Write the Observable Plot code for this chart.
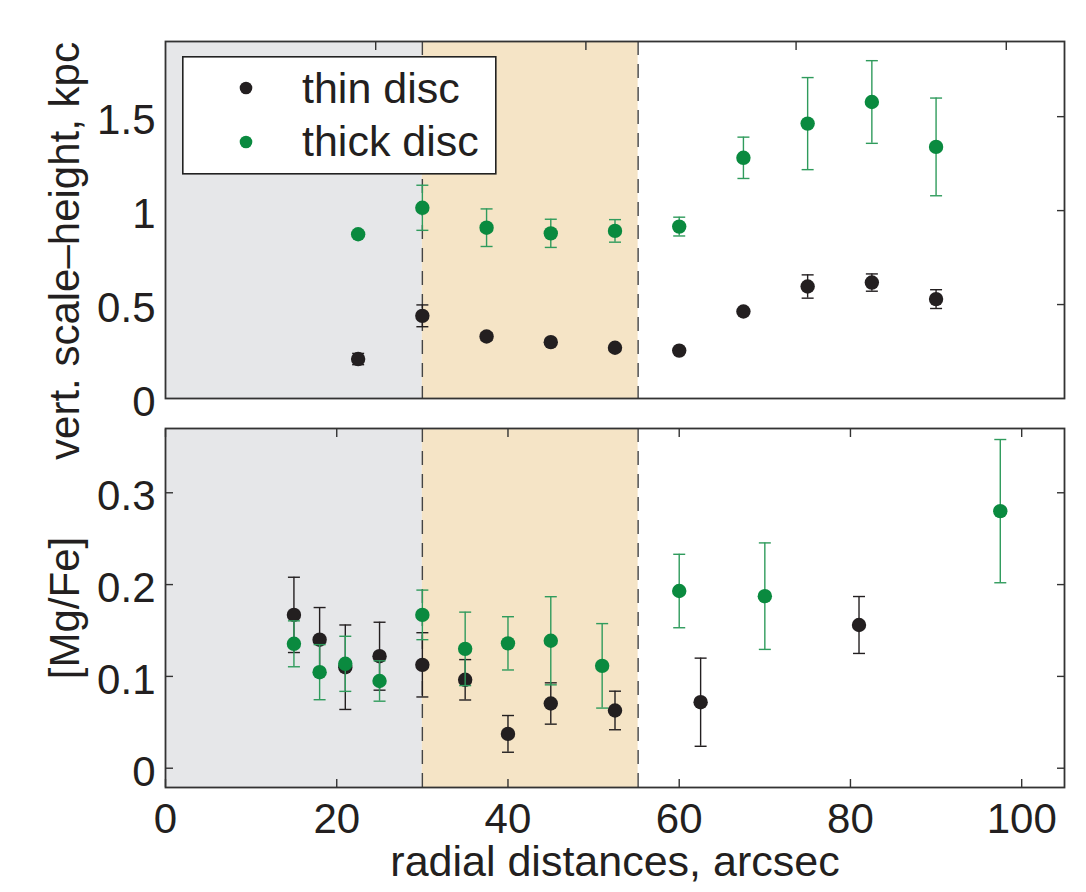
<!DOCTYPE html>
<html><head><meta charset="utf-8">
<script src="https://cdn.jsdelivr.net/npm/d3@7"></script>
<script src="https://cdn.jsdelivr.net/npm/@observablehq/plot@0.6"></script>
<style>
body{margin:0;background:#fff;}
#wrap{position:relative;width:1086px;height:892px;font-family:"Liberation Sans",Arial,Helvetica,sans-serif;color:#231f20;}
#wrap svg{display:block;overflow:visible;}
#legend{position:absolute;left:182px;top:56px;}
</style></head><body><div id="wrap"></div>
<script>
// ---- data ----
const heightX      = [22.5, 30, 37.5, 45, 52.5, 60, 67.5, 75, 82.5, 90];
const thinHeight   = [0.21, 0.44, 0.33, 0.30, 0.27, 0.255, 0.463, 0.596, 0.617, 0.529];
const thinHeightE  = [0.03, 0.058, 0.02, 0.01, 0.01, 0.01, 0.01, 0.062, 0.046, 0.05];
const thickHeight  = [0.874, 1.015, 0.909, 0.879, 0.892, 0.915, 1.281, 1.463, 1.578, 1.339];
const thickHeightE = [0.01, 0.12, 0.10, 0.075, 0.06, 0.05, 0.11, 0.245, 0.22, 0.26];

const thinMgX   = [15, 18, 21, 25, 30, 35, 40, 45, 52.5, 62.5, 81];
const thinMg    = [0.167, 0.140, 0.110, 0.122, 0.1126, 0.0963, 0.0374, 0.0705, 0.0629, 0.0719, 0.156];
const thinMgE   = [0.041, 0.035, 0.046, 0.037, 0.035, 0.022, 0.02, 0.0225, 0.021, 0.048, 0.031];
const thickMgX  = [15, 18, 21, 25, 30, 35, 40, 45, 51, 60, 70, 97.5];
const thickMg   = [0.1355, 0.1046, 0.1137, 0.095, 0.167, 0.130, 0.136, 0.1388, 0.1115, 0.193, 0.1874, 0.280];
const thickMgE  = [0.025, 0.03, 0.03, 0.022, 0.027, 0.04, 0.029, 0.048, 0.046, 0.04, 0.058, 0.078];

const zoneStart = [0, 30];
const zoneEnd   = [30, 55.2];
const zoneFill  = ["#e6e7e9", "#f5e4c6"];
const dashAt    = [30, 55.2];

const xDomain     = [0, 105];
const topYDomain  = [0, 1.9];
const botYDomain  = [-0.021, 0.37];
const topYTicks   = [0, 0.5, 1, 1.5];
const topXTickMarks = [24.55, 49.1, 73.65, 98.2];
const botYTicks   = [0, 0.1, 0.2, 0.3];
const xTicks      = [0, 20, 40, 60, 80, 100];

const seriesNames = ["thin disc", "thick disc"];
const yLabelTop = "vert. scale\u2013height, kpc";
const yLabelBot = "[Mg/Fe]";
const xLabel = "radial distances, arcsec";

const BLACK = "#231f20", GREEN = "#0a8a3f", GREEN_E = "#2f9b5c", AX = "#333";
const FONT = "'Liberation Sans', Arial, Helvetica, sans-serif";

// ---- build rows ----
const rows = (xs, ys, es) => xs.map((x, i) => ({x, y: ys[i], e: es[i]}));
const topThin  = rows(heightX, thinHeight, thinHeightE);
const topThick = rows(heightX, thickHeight, thickHeightE);
const botThin  = rows(thinMgX, thinMg, thinMgE);
const botThick = rows(thickMgX, thickMg, thickMgE);
const zones = zoneStart.map((s, i) => ({x1: s, x2: zoneEnd[i], fill: zoneFill[i]}));

const cap = {draw(ctx) { ctx.moveTo(-6, 0); ctx.lineTo(6, 0); }};

function errMarks(data, color, ecolor) {
  return [
    Plot.ruleX(data, {x: "x", y1: d => d.y - d.e, y2: d => d.y + d.e, stroke: ecolor, strokeWidth: 1.4}),
    Plot.dot(data, {x: "x", y: d => d.y - d.e, symbol: cap, stroke: ecolor, strokeWidth: 1.4, fill: "none"}),
    Plot.dot(data, {x: "x", y: d => d.y + d.e, symbol: cap, stroke: ecolor, strokeWidth: 1.4, fill: "none"}),
    Plot.dot(data, {x: "x", y: "y", r: 7.2, fill: color, stroke: "none"})
  ];
}

const baseStyle = {background: "transparent", overflow: "visible", fontFamily: FONT, color: BLACK};

const topPlot = Plot.plot({
  width: 1086, height: 413, marginLeft: 165, marginRight: 22, marginTop: 41, marginBottom: 15,
  style: baseStyle,
  x: {domain: xDomain, axis: null},
  y: {domain: topYDomain, axis: null},
  color: {type: "identity"},
  marks: [
    Plot.rect(zones, {x1: "x1", x2: "x2", fill: "fill"}),
    Plot.ruleX(dashAt, {stroke: "#444", strokeWidth: 1.4, strokeDasharray: "14,9"}),
    ...errMarks(topThin, BLACK, BLACK),
    ...errMarks(topThick, GREEN, GREEN_E),
    Plot.frame({stroke: AX, strokeWidth: 1.8}),
    Plot.axisX({anchor: "top", ticks: topXTickMarks, tickSize: -8, fill: "none", label: null, stroke: AX, strokeWidth: 1.4}),
    Plot.axisY({anchor: "right", ticks: [0.5, 1, 1.5], tickSize: -8, fill: "none", label: null, stroke: AX, strokeWidth: 1.4}),
    Plot.axisY({anchor: "left", ticks: topYTicks, tickSize: 0, tickPadding: 10, tickFormat: d => String(d), fontSize: 42, label: null, dy: 4, fill: BLACK}),
    Plot.text([yLabelTop], {text: d => d, frameAnchor: "left", textAnchor: "middle", rotate: -90, dx: -100, dy: 31, fontSize: 42, fill: BLACK})
  ]
});

const botPlot = Plot.plot({
  width: 1086, height: 479, marginLeft: 165, marginRight: 22, marginTop: 15, marginBottom: 105,
  style: baseStyle,
  x: {domain: xDomain, axis: null},
  y: {domain: botYDomain, axis: null},
  color: {type: "identity"},
  marks: [
    Plot.rect(zones, {x1: "x1", x2: "x2", fill: "fill"}),
    Plot.ruleX(dashAt, {stroke: "#444", strokeWidth: 1.4, strokeDasharray: "14,9"}),
    ...errMarks(botThin, BLACK, BLACK),
    ...errMarks(botThick, GREEN, GREEN_E),
    Plot.frame({stroke: AX, strokeWidth: 1.8}),
    Plot.axisX({anchor: "top", ticks: xTicks, tickSize: -8, fill: "none", label: null, stroke: AX, strokeWidth: 1.4}),
    Plot.axisX({anchor: "bottom", ticks: xTicks, tickSize: -8, fill: "none", label: null, stroke: AX, strokeWidth: 1.4}),
    Plot.axisY({anchor: "left", ticks: botYTicks, tickSize: -8, fill: "none", label: null, stroke: AX, strokeWidth: 1.4}),
    Plot.axisY({anchor: "right", ticks: botYTicks, tickSize: -8, fill: "none", label: null, stroke: AX, strokeWidth: 1.4}),
    Plot.axisY({anchor: "left", ticks: botYTicks, tickSize: 0, tickPadding: 10, tickFormat: d => String(d), fontSize: 42, label: null, dy: 4, fill: BLACK}),
    Plot.axisX({anchor: "bottom", ticks: xTicks, tickSize: 0, tickPadding: 16, tickFormat: d => String(d), fontSize: 42, label: null, fill: BLACK}),
    Plot.text([yLabelBot], {text: d => d, frameAnchor: "left", textAnchor: "middle", rotate: -90, dx: -100, fontSize: 42, fill: BLACK}),
    Plot.text([xLabel], {text: d => d, frameAnchor: "bottom", dy: 88, fontSize: 43, fill: BLACK})
  ]
});

const wrap = document.getElementById("wrap");
wrap.appendChild(topPlot);
wrap.appendChild(botPlot);

// legend
const lg = document.createElement("div");
lg.id = "legend";
const colors = [BLACK, GREEN];
lg.innerHTML = `<svg width="315" height="119" style="overflow:visible">
  <rect x="0.8" y="0.8" width="313" height="117" fill="#fff" stroke="#222" stroke-width="1.6"/>
  ${seriesNames.map((n, i) => `<circle cx="64" cy="${32 + i * 54}" r="6.3" fill="${colors[i]}"/>
  <text x="120" y="${47 + i * 53}" font-size="43" font-family="${FONT.replace(/'/g, "")}" fill="${BLACK}">${n}</text>`).join("")}
</svg>`;
wrap.appendChild(lg);
</script>
</body></html>
